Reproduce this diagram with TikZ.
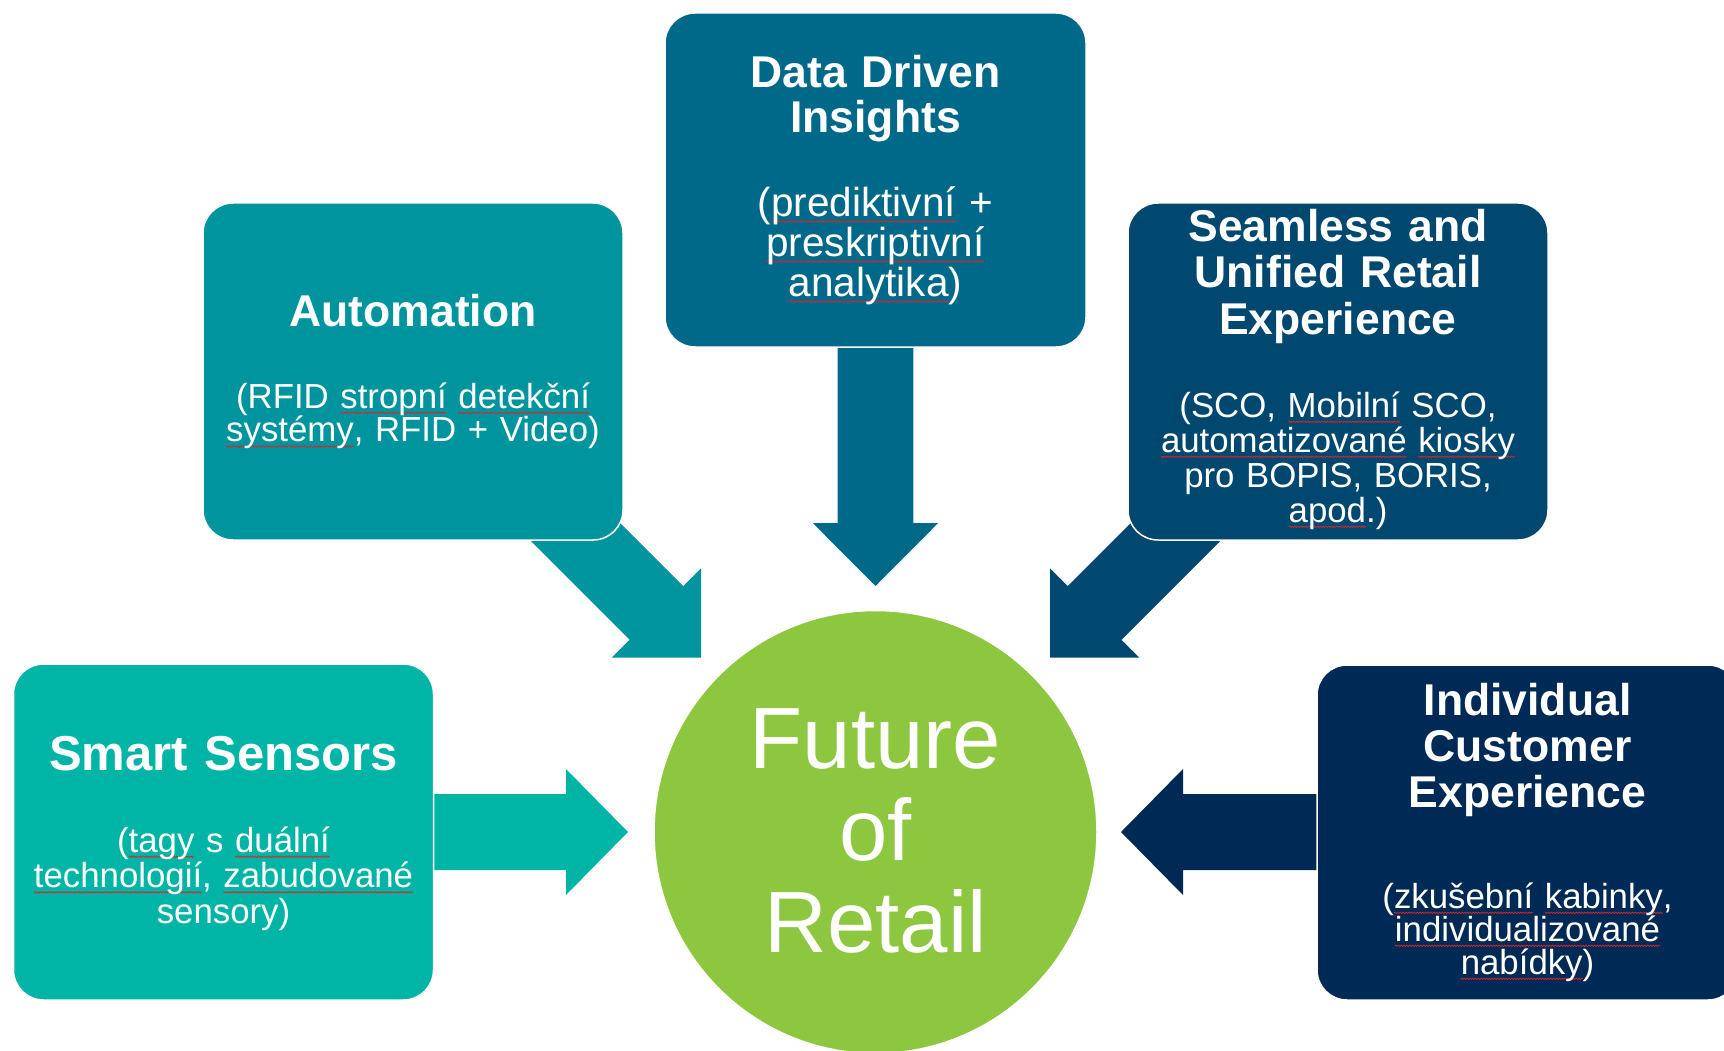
\documentclass[tikz,border=0pt]{standalone}
\usepackage{fontspec}
\setmainfont{Liberation Sans}
\usetikzlibrary{decorations.pathmorphing}
\definecolor{cSmart}{HTML}{00B4A6}
\definecolor{cAuto}{HTML}{00949E}
\definecolor{cData}{HTML}{00698A}
\definecolor{cSeam}{HTML}{00486F}
\definecolor{cIndiv}{HTML}{002A56}
\definecolor{cCircle}{HTML}{8DC63F}
\definecolor{sqred}{HTML}{D8262A}
\newsavebox\sqwordbox
\newdimen\sqwd
\newcommand\sq[1]{\leavevmode\sbox\sqwordbox{#1}\global\sqwd=\wd\sqwordbox\rlap{\raisebox{-4.8pt}[0pt][0pt]{\tikz[baseline=0pt]{\useasboundingbox (0pt,0pt) rectangle (\sqwd,0pt);\draw[sqred,line width=0.7pt,decorate,decoration={zigzag,segment length=2.8pt,amplitude=0.75pt}] (0pt,0pt) -- (\sqwd,0pt);}}}\usebox\sqwordbox}
\begin{document}
\begin{tikzpicture}[x=1pt,y=-1pt,
  box/.style={rounded corners=30pt, draw=white, line width=1.5pt, minimum width=420pt, minimum height=336pt, inner sep=0pt},
  ttl/.style={text=white, anchor=base, align=center, text width=410pt, inner sep=0pt},
  sub/.style={text=white, anchor=base, align=center, text width=410pt, inner sep=0pt}]
\useasboundingbox (0,0) rectangle (1724,1051);
\clip (0,0) rectangle (1724,1051);

% arrow tips
\coordinate (tipS) at (628,832);
\coordinate (tipI) at (1121,832);
\coordinate (tipD) at (875.5,586);
\coordinate (tipA) at (701,657.5);
\coordinate (tipB) at (1050,657.5);

% block arrows (behind boxes)
\fill[cSmart] (tipS) -- ++(-62,-63) -- ++(0,25) -- ++(-150,0) -- ++(0,76) -- ++(150,0) -- ++(0,25) -- cycle;
\fill[cIndiv] (tipI) -- ++(62,-63) -- ++(0,25) -- ++(150,0) -- ++(0,76) -- ++(-150,0) -- ++(0,25) -- cycle;
\fill[cData] (tipD) -- ++(-62.7,-63) -- ++(24.9,0) -- ++(0,-190) -- ++(75.6,0) -- ++(0,190) -- ++(24.9,0) -- cycle;
\fill[cAuto] (tipA) -- ++(0,-89.1) -- ++(-17.68,17.68) -- ++(-113.1,-113.1) -- ++(-53.74,53.74) -- ++(113.1,113.1) -- ++(-17.68,17.68) -- cycle;
\fill[cSeam] (tipB) -- ++(0,-89.1) -- ++(17.68,17.68) -- ++(113.1,-113.1) -- ++(53.74,53.74) -- ++(-113.1,113.1) -- ++(17.68,17.68) -- cycle;

% boxes
\node[box, fill=cSmart] (smart) at (223.5,832) {};
\node[box, fill=cAuto, minimum height=337pt] (auto) at (413,371.5) {};
\node[box, fill=cData, minimum width=421pt, minimum height=334pt] (data) at (875.5,180) {};
\node[box, fill=cSeam, minimum height=337pt] (seam) at (1338,371.5) {};
\node[box, fill=cIndiv, minimum width=421pt, minimum height=335pt] (indiv) at (1527.5,832.5) {};

% circle
\node[circle, fill=cCircle, draw=white, line width=1.5pt, minimum size=443pt, inner sep=0pt] (retail) at (875.5,832) {};

% titles
\node[ttl, font=\bfseries\fontsize{49pt}{49pt}\selectfont] (smartT) at (223.5,770) {Smart Sensors};
\node[ttl, font=\bfseries\fontsize{44.5pt}{45pt}\selectfont] (autoT) at (413,326.7) {Automation};
\node[ttl, font=\bfseries\fontsize{44.5pt}{45pt}\selectfont] (dataT) at (875.5,87.5) {Data Driven\\Insights};
\node[ttl, font=\bfseries\fontsize{44.5pt}{46.5pt}\selectfont] (seamT) at (1338,241.5) {Seamless and\\Unified Retail\\Experience};
\node[ttl, font=\bfseries\fontsize{44.5pt}{46pt}\selectfont] (indivT) at (1527.5,715) {Individual\\Customer\\Experience};

% subtitles
\node[sub, font=\fontsize{34.8pt}{35.5pt}\selectfont] (smartS) at (223.5,852) {(\sq{tagy} s \sq{duální}\\\sq{technologií}, \sq{zabudované}\\sensory)};
\node[sub, font=\fontsize{34.8pt}{33.7pt}\selectfont] (autoS) at (413,408) {(RFID \sq{stropní} \sq{detekční}\\\sq{systémy}, RFID + Video)};
\node[sub, font=\fontsize{40.5pt}{40pt}\selectfont] (dataS) at (875.5,216.7) {(\sq{prediktivní} +\\\sq{preskriptivní}\\\sq{analytika})};
\node[sub, font=\fontsize{34.8pt}{35pt}\selectfont] (seamS) at (1338,417) {(SCO, \sq{Mobilní} SCO,\\\sq{automatizované} \sq{kiosky}\\pro BOPIS, BORIS,\\\sq{apod}.)};
\node[sub, font=\fontsize{34.8pt}{33pt}\selectfont] (indivS) at (1527.5,908) {(\sq{zkušební} \sq{kabinky},\\\sq{individualizované}\\\sq{nabídky})};

% centre text
\node[ttl, font=\fontsize{87pt}{92pt}\selectfont] (retailT) at (875.5,768) {Future\\of\\Retail};
\end{tikzpicture}
\end{document}
